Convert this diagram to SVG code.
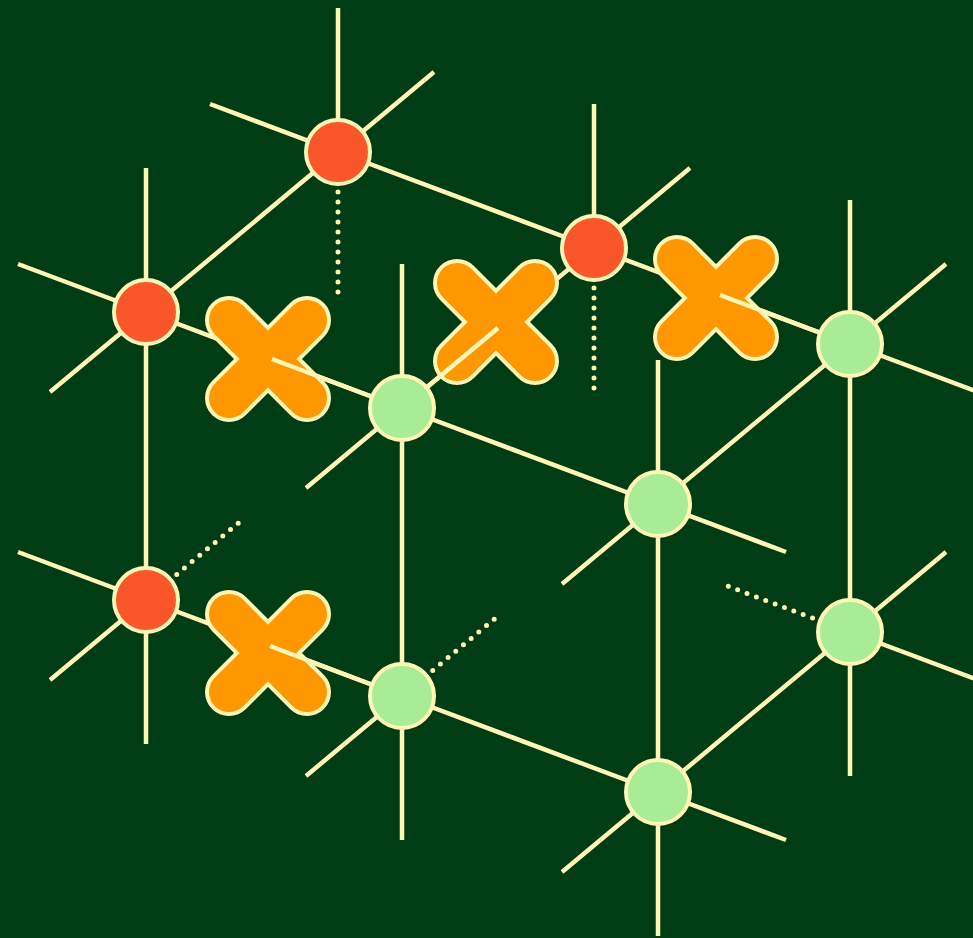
<svg xmlns="http://www.w3.org/2000/svg" width="973" height="938" viewBox="0 0 973 938">
<style>
.e{stroke:#fff6b5;stroke-width:4.5;fill:none;stroke-linecap:butt}
.d{stroke:#fff6b5;stroke-width:5;fill:none;stroke-linecap:round;stroke-dasharray:0 10}
.xo{stroke:#fff6b5;stroke-width:48;stroke-linecap:round;fill:none}
.xi{stroke:#ff9800;stroke-width:40;stroke-linecap:round;fill:none}
.red{fill:#f9572a;stroke:#fff6b5;stroke-width:4}
.grn{fill:#a8ec96;stroke:#fff6b5;stroke-width:4}
</style>
<defs>
<g id="xmark">
<path class="xo" d="M-39,-39L39,39M39,-39L-39,39"/>
<path class="xi" d="M-39,-39L39,39M39,-39L-39,39"/>
</g>
</defs>
<rect width="973" height="938" fill="#003c14"/>
<g id="connectors">
<path class="e" d="M146,312L338,152M146,312L146,600M146,312L402,408M338,152L594,248M594,248L402,408M594,248L850,344M402,408L658,504M402,408L402,696M146,600L402,696M402,696L658,792M658,504L658,792M658,504L850,344M850,344L850,632M850,632L658,792"/>
<path class="e" d="M146,312L146,168M146,312L18,264M146,312L50,392M338,152L338,8M338,152L434,72M338,152L210,104M594,248L594,104M594,248L690,168M850,344L850,200M850,344L946,264M850,344L978,392M850,632L946,552M850,632L978,680M850,632L850,776M658,504L658,360M658,504L786,552M658,504L562,584M658,792L786,840M658,792L562,872M658,792L658,936M402,408L402,264M402,408L306,488M402,696L306,776M402,696L402,840M146,600L18,552M146,600L50,680M146,600L146,744"/>
<path class="d" d="M338,152L338,296M594,248L594,392M146,600L242,520M402,696L498,616M850,632L722,584"/>
</g>
<g id="x1" transform="translate(268,359)"><use href="#xmark"/></g>
<g id="x2" transform="translate(496,322)"><use href="#xmark"/></g>
<g id="x3" transform="translate(716,298)"><use href="#xmark"/></g>
<g id="x4" transform="translate(268,653)"><use href="#xmark"/></g>
<g id="connectors-over">
<path class="e" d="M402,408L272,359M402,408L498,328M850,344L720,295M402,696L270,646"/>
</g>
<g id="n-000"><circle class="red" cx="146" cy="312" r="32"/></g>
<g id="n-010"><circle class="red" cx="146" cy="600" r="32"/></g>
<g id="n-001"><circle class="red" cx="338" cy="152" r="32"/></g>
<g id="n-101"><circle class="red" cx="594" cy="248" r="32"/></g>
<g id="n-100"><circle class="grn" cx="402" cy="408" r="32"/></g>
<g id="n-110"><circle class="grn" cx="402" cy="696" r="32"/></g>
<g id="n-200"><circle class="grn" cx="658" cy="504" r="32"/></g>
<g id="n-210"><circle class="grn" cx="658" cy="792" r="32"/></g>
<g id="n-201"><circle class="grn" cx="850" cy="344" r="32"/></g>
<g id="n-211"><circle class="grn" cx="850" cy="632" r="32"/></g>
</svg>
